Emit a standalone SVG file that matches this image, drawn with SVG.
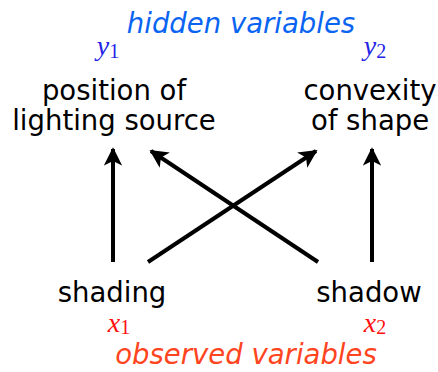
<svg xmlns="http://www.w3.org/2000/svg" width="438" height="372" viewBox="0 0 438 372">
<style>
.lbl{font-family:"DejaVu Sans","Liberation Sans",sans-serif;font-size:27.5px;fill:#000;text-anchor:middle}
.cap{font-family:"DejaVu Sans","Liberation Sans",sans-serif;font-size:27.5px;font-style:italic;text-anchor:middle}
.math{font-family:"Liberation Serif","DejaVu Serif",serif;font-size:28px;font-style:italic;text-anchor:middle}
.sub{font-style:normal;font-size:20px}
.edge{stroke:#000;stroke-width:4;fill:none;marker-end:url(#ah)}
</style>
<defs>
<marker id="ah" viewBox="0 0 10 10" refX="9" refY="5" markerWidth="4.6" markerHeight="4.6" orient="auto" markerUnits="strokeWidth">
<path d="M0,0 L10,5 L0,10 L2.5,5 Z" fill="#000"/>
</marker>
</defs>
<text class="cap" x="241" y="33" fill="#0a64f2">hidden variables</text>
<g id="y1">
<text class="math" x="108" y="55" fill="#2424e6">y<tspan class="sub" dy="3">1</tspan></text>
<text class="lbl" x="114" y="100">position of</text>
<text class="lbl" x="114" y="130">lighting source</text>
</g>
<g id="y2">
<text class="math" x="375" y="55" fill="#2424e6">y<tspan class="sub" dy="3">2</tspan></text>
<text class="lbl" x="370" y="100">convexity</text>
<text class="lbl" x="370" y="130">of shape</text>
</g>
<g id="x1">
<text class="lbl" x="112" y="302">shading</text>
<text class="math" x="119" y="332" fill="#ff1010">x<tspan class="sub" dy="2">1</tspan></text>
</g>
<g id="x2">
<text class="lbl" x="369" y="302">shadow</text>
<text class="math" x="375" y="332" fill="#ff1010">x<tspan class="sub" dy="2">2</tspan></text>
</g>
<text class="cap" x="246" y="364" fill="#ff4420">observed variables</text>
<g id="connectors">
<line class="edge" x1="113" y1="262" x2="113" y2="149"/>
<line class="edge" x1="372" y1="262" x2="372" y2="149"/>
<line class="edge" x1="318" y1="262" x2="151" y2="151"/>
<line class="edge" x1="148" y1="262" x2="316" y2="151"/>
</g>
</svg>
